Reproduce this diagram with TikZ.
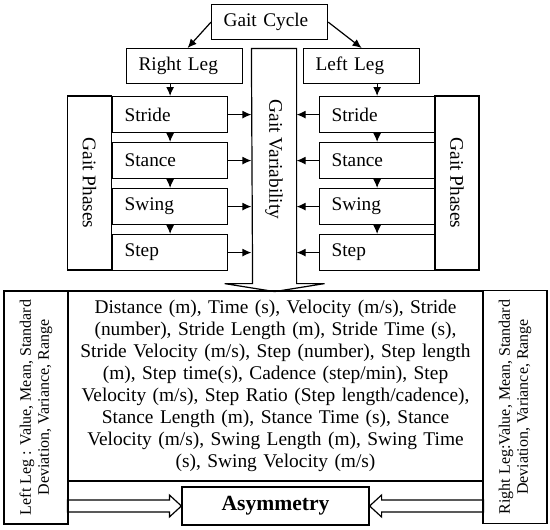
\documentclass[tikz,border=0pt]{standalone}
\usepackage{fontspec}
\setmainfont{Liberation Serif}
\usepackage{graphicx}
\usetikzlibrary{arrows.meta}

\newcommand{\gaitfont}{\fontsize{19.3}{22}\selectfont}
\newcommand{\listfont}{\fontsize{19.4}{22}\selectfont}
\newcommand{\sidefont}{\fontsize{16}{18}\selectfont}

\tikzset{
  box/.style={draw, anchor=north west, inner xsep=12pt, align=left, font=\gaitfont},
  phase/.style={box, text width=91pt, minimum height=36pt},
  leg/.style={box, text width=92pt, minimum height=35pt},
  phases/.style={draw, rotate=-90, minimum width=174pt, minimum height=44pt, font=\gaitfont},
  legval/.style={draw, rotate=90, minimum width=233pt, minimum height=64pt, align=center, font=\sidefont},
  arr/.style={-{Latex[length=9pt,width=8pt]}},
}

\begin{document}
\begin{tikzpicture}[x=1pt,y=-1pt,line width=1.2pt]
  \useasboundingbox (0,0) rectangle (550,530);

  % top
  \node[leg] (cycle) at (211,4) {Gait Cycle};
  \node[leg] (rleg) at (126,48) {Right Leg};
  \node[leg] (lleg) at (303,48) {Left Leg};
  \draw[arr] (cycle.west) -- ([xshift=3pt]rleg.north);
  \draw[arr] (cycle.east) -- (lleg.north);

  % gait variability
  \node[minimum width=44pt, minimum height=221pt, inner sep=0pt, font=\gaitfont] (var)
    at (274,159.5) {\rotatebox{-90}{Gait Variability}};
  \draw (var.north west) -- (var.north east) -- (var.south east) -- ++(0,13)
    -- ++(28,0) -- ++(-50,8) -- ++(-50,-8) -- ++(28,0) -- cycle;

  % right leg phases
  \node[phase] (sL) at (112,96) {Stride};
  \node[phase] (tL) at (112,142) {Stance};
  \node[phase] (wL) at (112,188) {Swing};
  \node[phase] (pL) at (112,234) {Step};
  \node[phases] (gpL) at (89.5,183) {Gait Phases};

  % left leg phases
  \node[phase] (sR) at (319,96) {Stride};
  \node[phase] (tR) at (319,142) {Stance};
  \node[phase] (wR) at (319,188) {Swing};
  \node[phase] (pR) at (319,234) {Step};
  \node[phases] (gpR) at (457,183) {Gait Phases};

  \draw[arr] (sL.north |- rleg.south) -- (sL.north);
  \draw[arr] (sR.north |- lleg.south) -- (sR.north);
  \foreach \a/\b in {sL/tL,tL/wL,wL/pL,sR/tR,tR/wR,wR/pR}
    \draw[arr] (\a.south) -- (\b.north);
  \foreach \p in {sL,tL,wL,pL}
    \draw[arr] (\p.east) -- (\p.east -| var.west);
  \foreach \p in {sR,tR,wR,pR}
    \draw[arr] (\p.west) -- (\p.west -| var.east);

  % parameters
  \node[legval] (lval) at (36,407.5) {Left Leg : Value, Mean, Standard\\Deviation, Variance, Range};
  \node[legval] (rval) at (515,407) {Right Leg:Value, Mean, Standard\\Deviation, Variance, Range};
  \node[draw, minimum height=190pt, text width=405pt, inner xsep=5pt, align=center, font=\listfont]
    (params) at (275.5,386) {Distance (m), Time (s), Velocity (m/s), Stride\\
    (number), Stride Length (m), Stride Time (s),\\
    Stride Velocity (m/s), Step (number), Step length\\
    (m), Step time(s), Cadence (step/min), Step\\
    Velocity (m/s), Step Ratio (Step length/cadence),\\
    Stance Length (m), Stance Time (s), Stance\\
    Velocity (m/s), Swing Length (m), Swing Time\\
    (s), Swing Velocity (m/s)};

  \node[draw, minimum width=187pt, minimum height=38pt, font=\fontsize{21.6}{24}\selectfont\bfseries]
    (asym) at (275.5,506) {Asymmetry};
  \draw (asym.west) -- ++(-12,-11) -- ++(0,5) -- ++(-102,0) -- ++(0,12)
    -- ++(102,0) -- ++(0,5) -- cycle;
  \draw (asym.east) -- ++(12,-11) -- ++(0,5) -- ++(102,0) -- ++(0,12)
    -- ++(-102,0) -- ++(0,5) -- cycle;
\end{tikzpicture}
\end{document}
